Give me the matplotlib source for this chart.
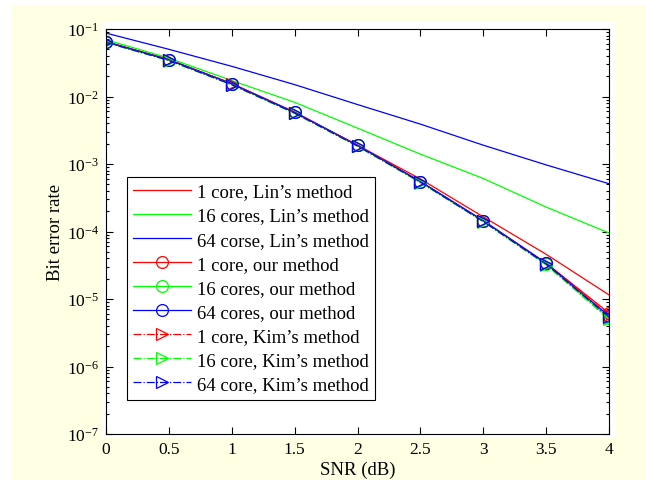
"""BER versus SNR for Lin's, our and Kim's method on 1, 16 and 64 cores."""

import matplotlib

matplotlib.use("Agg")

import matplotlib.pyplot as plt
from matplotlib.patches import Rectangle
from matplotlib.ticker import LogLocator, NullFormatter


snr_db = [0, 0.5, 1, 1.5, 2, 2.5, 3, 3.5, 4]

# Lin's method
lin_1 = [0.0645, 0.0352, 0.0156, 0.0059, 0.0019, 6.0e-4, 1.65e-4, 4.6e-5, 1.15e-5]
lin_16 = [0.0694, 0.037, 0.0172, 0.0082, 0.0034, 1.4e-3, 6.1e-4, 2.3e-4, 9.5e-5]
lin_64 = [0.087, 0.050, 0.028, 0.015, 0.0076, 3.9e-3, 1.9e-3, 9.7e-4, 5.1e-4]

# our method
our_1 = [0.0650, 0.0352, 0.0155, 0.0058, 0.0019, 5.5e-4, 1.45e-4, 3.4e-5, 6.2e-6]
our_16 = [0.0640, 0.0348, 0.0153, 0.0058, 0.00188, 5.4e-4, 1.43e-4, 3.3e-5, 5.2e-6]
our_64 = [0.0645, 0.0350, 0.0154, 0.0058, 0.00189, 5.5e-4, 1.45e-4, 3.4e-5, 5.6e-6]

# Kim's method
kim_1 = [0.0640, 0.0345, 0.0151, 0.0057, 0.00186, 5.4e-4, 1.42e-4, 3.3e-5, 5.8e-6]
kim_16 = [0.0630, 0.0340, 0.0149, 0.0056, 0.00183, 5.3e-4, 1.40e-4, 3.2e-5, 5.0e-6]
kim_64 = [0.0635, 0.0343, 0.0150, 0.0057, 0.00185, 5.4e-4, 1.41e-4, 3.3e-5, 5.4e-6]

x_ticks = [0, 0.5, 1, 1.5, 2, 2.5, 3, 3.5, 4]
x_tick_labels = ["0", "0.5", "1", "1.5", "2", "2.5", "3", "3.5", "4"]
y_ticks = [1e-7, 1e-6, 1e-5, 1e-4, 1e-3, 1e-2, 1e-1]
y_tick_labels = [r"$10^{-7}$", r"$10^{-6}$", r"$10^{-5}$", r"$10^{-4}$",
                 r"$10^{-3}$", r"$10^{-2}$", r"$10^{-1}$"]

RED = "#ff0000"
GREEN = "#00ff00"
BLUE = "#0000ff"


def main():
    plt.rcParams["font.family"] = ["Liberation Serif", "DejaVu Serif"]
    plt.rcParams["mathtext.fontset"] = "custom"
    plt.rcParams["mathtext.rm"] = "Liberation Serif"
    plt.rcParams["mathtext.it"] = "Liberation Serif:italic"

    figure = plt.figure(figsize=(6.46, 4.81), dpi=100, facecolor="white")
    W, H = 646.0, 481.0

    # light yellow panel and white box behind the axes
    figure.patches.append(Rectangle((12 / W, 0), 1 - 12 / W, 1 - 6 / H,
                                    transform=figure.transFigure,
                                    facecolor="#ffffe3", edgecolor="none", zorder=-2))
    figure.patches.append(Rectangle((102 / W, 1 - 439 / H), (616 - 102) / W, (439 - 23) / H,
                                    transform=figure.transFigure,
                                    facecolor="white", edgecolor="none", zorder=-1))

    axis = figure.add_axes([106 / W, 1 - 435 / H, (609 - 106) / W, (435 - 30) / H])
    axis.set_facecolor("white")

    lw = 0.9
    axis.semilogy(snr_db, lin_1, color=RED, lw=lw, label="1 core, Lin\u2019s method")
    axis.semilogy(snr_db, lin_16, color=GREEN, lw=lw, label="16 cores, Lin\u2019s method")
    axis.semilogy(snr_db, lin_64, color=BLUE, lw=lw, label="64 corse, Lin\u2019s method")

    ms = 8.5
    for values, color, label in [
        (our_1, RED, "1 core, our method"),
        (our_16, GREEN, "16 cores, our method"),
        (our_64, BLUE, "64 cores, our method"),
    ]:
        axis.semilogy(snr_db, values, color=color, lw=lw, marker="o", ms=ms,
                      mfc="none", mec=color, mew=0.9, label=label)

    for values, color, label in [
        (kim_1, RED, "1 core, Kim\u2019s method"),
        (kim_16, GREEN, "16 core, Kim\u2019s method"),
        (kim_64, BLUE, "64 core, Kim\u2019s method"),
    ]:
        axis.semilogy(snr_db, values, color=color, lw=lw, ls="-.", marker=">", ms=ms,
                      mfc="none", mec=color, mew=0.9, label=label)

    axis.set_xlim(0, 4)
    axis.set_ylim(1e-7, 1e-1)
    axis.set_xticks(x_ticks)
    axis.set_xticklabels(x_tick_labels)
    axis.set_yticks(y_ticks)
    axis.set_yticklabels(y_tick_labels)
    axis.yaxis.set_minor_locator(LogLocator(base=10, subs=range(2, 10), numticks=20))
    axis.yaxis.set_minor_formatter(NullFormatter())

    axis.tick_params(which="both", direction="in", top=True, right=True,
                     labelsize=12.5, width=0.8, color="black")
    axis.tick_params(which="major", length=5, pad=5)
    axis.tick_params(which="minor", length=2.5)
    for spine in axis.spines.values():
        spine.set_linewidth(0.8)

    axis.set_xlabel("SNR (dB)", fontsize=13.5, labelpad=3)
    axis.set_ylabel("Bit error rate", fontsize=13.5, labelpad=2)

    legend = axis.legend(loc="lower left", bbox_to_anchor=(0.041, 0.085),
                         borderaxespad=0, fontsize=13.5, numpoints=1,
                         handlelength=3.1, handletextpad=0.3, labelspacing=0.37,
                         borderpad=0.35, fancybox=False, framealpha=1)
    legend.get_frame().set_edgecolor("black")
    legend.get_frame().set_linewidth(0.8)

    figure.savefig("out.png", dpi=100, facecolor=figure.get_facecolor())
    plt.close(figure)


if __name__ == "__main__":
    main()
